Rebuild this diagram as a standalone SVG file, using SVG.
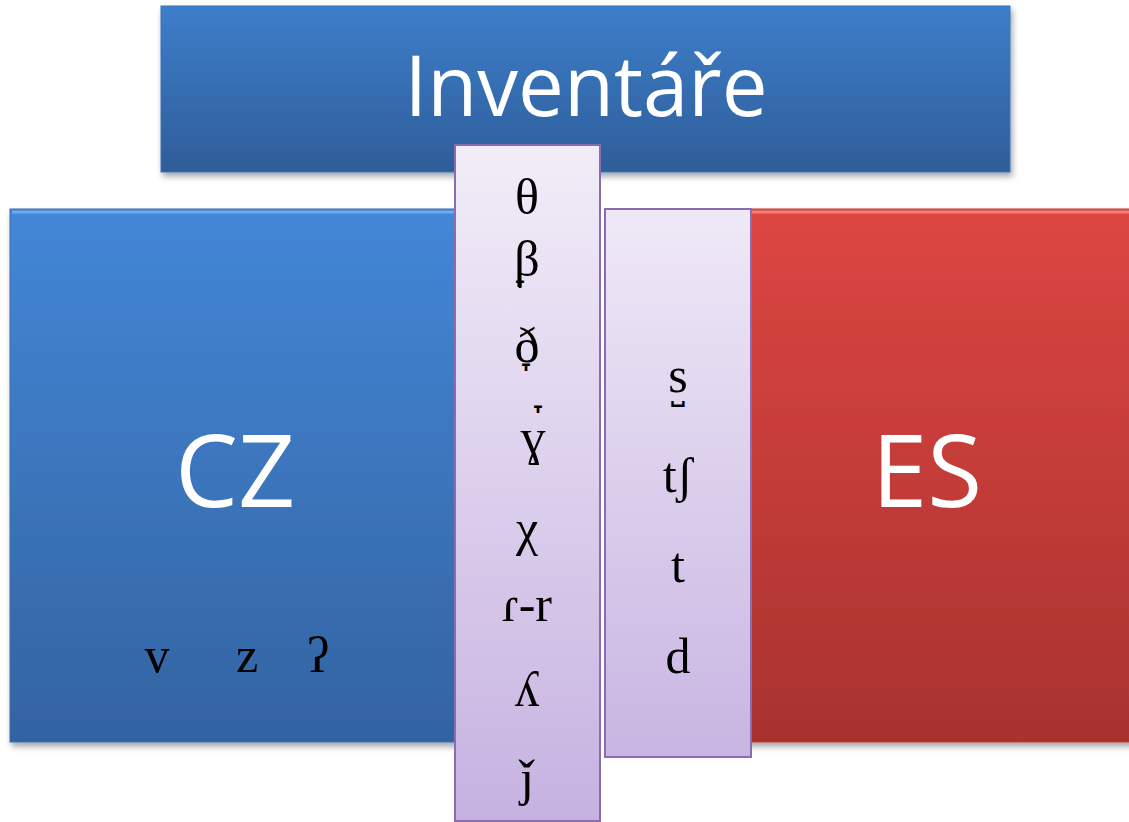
<svg xmlns="http://www.w3.org/2000/svg" width="1129" height="822" viewBox="0 0 1129 822">
  <defs>
    <linearGradient id="gTitle" x1="0" y1="0" x2="0" y2="1">
      <stop offset="0" stop-color="#3d7eca"/>
      <stop offset="1" stop-color="#2e5d99"/>
    </linearGradient>
    <linearGradient id="gBlue" x1="0" y1="0" x2="0" y2="1">
      <stop offset="0" stop-color="#4387d7"/>
      <stop offset="1" stop-color="#3363a1"/>
    </linearGradient>
    <linearGradient id="gRed" x1="0" y1="0" x2="0" y2="1">
      <stop offset="0" stop-color="#dd4642"/>
      <stop offset="1" stop-color="#a9322f"/>
    </linearGradient>
    <linearGradient id="gPurple" x1="0" y1="0" x2="0" y2="1">
      <stop offset="0" stop-color="#f2edf8"/>
      <stop offset="1" stop-color="#c6b2e1"/>
    </linearGradient>
    <linearGradient id="gPurple2" x1="0" y1="0" x2="0" y2="1">
      <stop offset="0" stop-color="#efe9f7"/>
      <stop offset="1" stop-color="#c8b5e2"/>
    </linearGradient>
    <filter id="shadow" x="-5%" y="-5%" width="110%" height="115%">
      <feDropShadow dx="2" dy="4" stdDeviation="3" flood-color="#000" flood-opacity="0.35"/>
    </filter>
  </defs>
  <style>
    .big { font-family: "Open Sans", "Liberation Sans", sans-serif; fill: #ffffff; text-anchor: middle; }
    .ipa { font-family: "Liberation Serif", "DejaVu Serif", serif; font-size: 50px; fill: #000000; text-anchor: middle; }
    .mark { font-family: "DejaVu Sans", sans-serif; font-size: 36px; fill: #000000; text-anchor: middle; }
    .col { stroke: #8a6cb1; stroke-width: 2; }
    .hiB { fill: none; stroke: #6fa8ec; stroke-width: 3; }
    .hiR { fill: none; stroke: #f27b76; stroke-width: 3; }
  </style>

  <!-- title bar -->
  <g id="title">
    <rect x="161" y="6" width="849" height="166" fill="url(#gTitle)" stroke="#3a72b8" stroke-width="1" filter="url(#shadow)"/>
    <text class="big" x="586" y="116" font-size="84" textLength="363" lengthAdjust="spacingAndGlyphs">Inventáře</text>
  </g>

  <!-- Czech block -->
  <g id="cz">
    <rect x="10" y="209" width="460" height="533" fill="url(#gBlue)" stroke="#3a6fb0" stroke-width="1" filter="url(#shadow)"/>
    <line x1="12" y1="212" x2="470" y2="212" class="hiB"/>
    <text class="big" x="235" y="507" font-size="100">CZ</text>
    <text class="ipa" x="157" y="672">v</text>
    <text class="ipa" x="247" y="672">z</text>
    <text class="ipa" x="318" y="672">ʔ</text>
  </g>

  <!-- Spanish block -->
  <g id="es">
    <rect x="740" y="209" width="400" height="533" fill="url(#gRed)" stroke="#c33b37" stroke-width="1" filter="url(#shadow)"/>
    <line x1="740" y1="212" x2="1129" y2="212" class="hiR"/>
    <text class="big" x="927" y="507" font-size="100">ES</text>
  </g>

  <!-- Spanish-only sounds; lowering marks are set as spacing modifier letters -->
  <g id="es-only">
    <rect x="455" y="145" width="145" height="676" fill="url(#gPurple)" class="col"/>
    <text class="ipa" x="527" y="214">θ</text>
    <text class="ipa" x="527" y="276">β</text>
    <text class="mark" x="520" y="296">˕</text>
    <text class="ipa" x="527" y="362">ð</text>
    <text class="mark" x="526" y="379">˕</text>
    <text class="ipa" x="533" y="454">ɣ</text>
    <text class="mark" x="538" y="421">˕</text>
    <text class="ipa" x="527" y="545">χ</text>
    <text class="ipa" x="527" y="621">ɾ-r</text>
    <text class="ipa" x="527" y="706">ʎ</text>
    <text class="ipa" x="527" y="795">ǰ</text>
  </g>

  <!-- sounds with different realisation -->
  <g id="shared">
    <rect x="605" y="209" width="146" height="548" fill="url(#gPurple2)" class="col"/>
    <text class="ipa" x="678" y="392">s</text>
    <text class="mark" x="678" y="399" font-size="30">˽</text>
    <text class="ipa" x="678" y="492">tʃ</text>
    <text class="ipa" x="678" y="582">t</text>
    <text class="ipa" x="678" y="673">d</text>
  </g>

  <g id="connectors"/>
</svg>
